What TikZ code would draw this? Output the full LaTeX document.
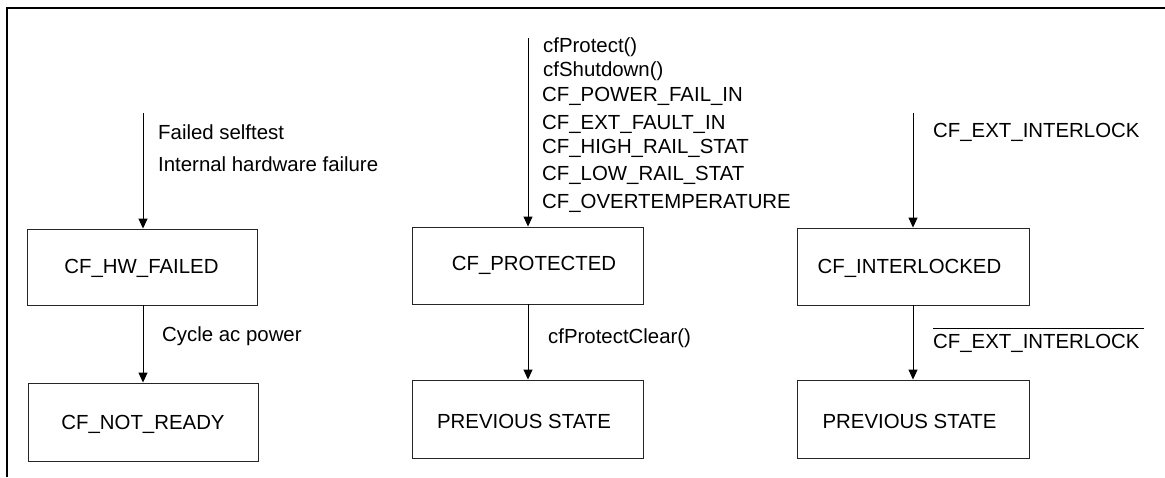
\documentclass[tikz,border=0pt]{standalone}
\usepackage{fontspec}
\setmainfont{Liberation Sans}
\usetikzlibrary{arrows.meta}
\begin{document}
\begin{tikzpicture}[x=1pt,y=-1pt,
  every node/.style={font=\fontsize{20.4pt}{24pt}\selectfont},
  statebox/.style={draw=black!85, line width=0.9pt, inner sep=0pt},
  lbl/.style={inner sep=0pt, anchor=west, text height=14.6pt, text depth=0pt},
  trans/.style={line width=0.9pt, -{Triangle[width=9pt,length=10pt]}}]
\useasboundingbox (0,0) rectangle (1165,477);
% frame (top and left sides)
\draw[line width=2.2pt] (7,477) -- (7,8) -- (1165,8);
% left column
\node[statebox, minimum width=230pt, minimum height=76pt] (hw) at (142.5,267) {};
\node at (141.5,268.5) {CF\_HW\_FAILED};
\node[statebox, minimum width=230pt, minimum height=78pt] (nr) at (143,422) {};
\node at (143,424.5) {CF\_NOT\_READY};
\coordinate (hwin) at (143,113);
\draw[trans] (hwin) -- (hw.north -| hwin);
\draw[trans] (hw.south -| hwin) -- (nr.north -| hwin);
\node[lbl] (l1) at (158,132) {Failed selftest};
\node[lbl] (l2) at (158,164) {Internal hardware failure};
\node[lbl] (l3) at (162,334.5) {Cycle ac power};
% middle column
\node[statebox, minimum width=231pt, minimum height=77pt] (pr) at (527.5,265.5) {};
\node at (534,265) {CF\_PROTECTED};
\node[statebox, minimum width=231pt, minimum height=78pt] (ps1) at (527.5,419) {};
\node at (524,421.5) {PREVIOUS STATE};
\coordinate (prin) at (528,38);
\draw[trans] (prin) -- (pr.north -| prin);
\draw[trans] (pr.south -| prin) -- (ps1.north -| prin);
\node[lbl] (m1) at (543,45.5) {cfProtect()};
\node[lbl] (m2) at (543,69) {cfShutdown()};
\node[lbl] (m3) at (542,94.5) {CF\_POWER\_FAIL\_IN};
\node[lbl] (m4) at (542,122) {CF\_EXT\_FAULT\_IN};
\node[lbl] (m5) at (542,146.5) {CF\_HIGH\_RAIL\_STAT};
\node[lbl] (m6) at (542,173) {CF\_LOW\_RAIL\_STAT};
\node[lbl] (m7) at (542,201.5) {CF\_OVERTEMPERATURE};
\node[lbl] (m8) at (548,336) {cfProtectClear()};
% right column
\node[statebox, minimum width=232pt, minimum height=77pt] (il) at (913,266.5) {};
\node at (909.5,268.5) {CF\_INTERLOCKED};
\node[statebox, minimum width=232pt, minimum height=78pt] (ps2) at (913,419) {};
\node at (909.5,421) {PREVIOUS STATE};
\coordinate (ilin) at (913,113);
\draw[trans] (ilin) -- (il.north -| ilin);
\draw[trans] (il.south -| ilin) -- (ps2.north -| ilin);
\node[lbl] (r1) at (933,130) {CF\_EXT\_INTERLOCK};
\node[lbl] (r2) at (933,341.5) {CF\_EXT\_INTERLOCK};
\draw[line width=0.9pt] ([yshift=6pt]r2.north west) -- ([yshift=6pt,xshift=4pt]r2.north east);
\end{tikzpicture}
\end{document}
